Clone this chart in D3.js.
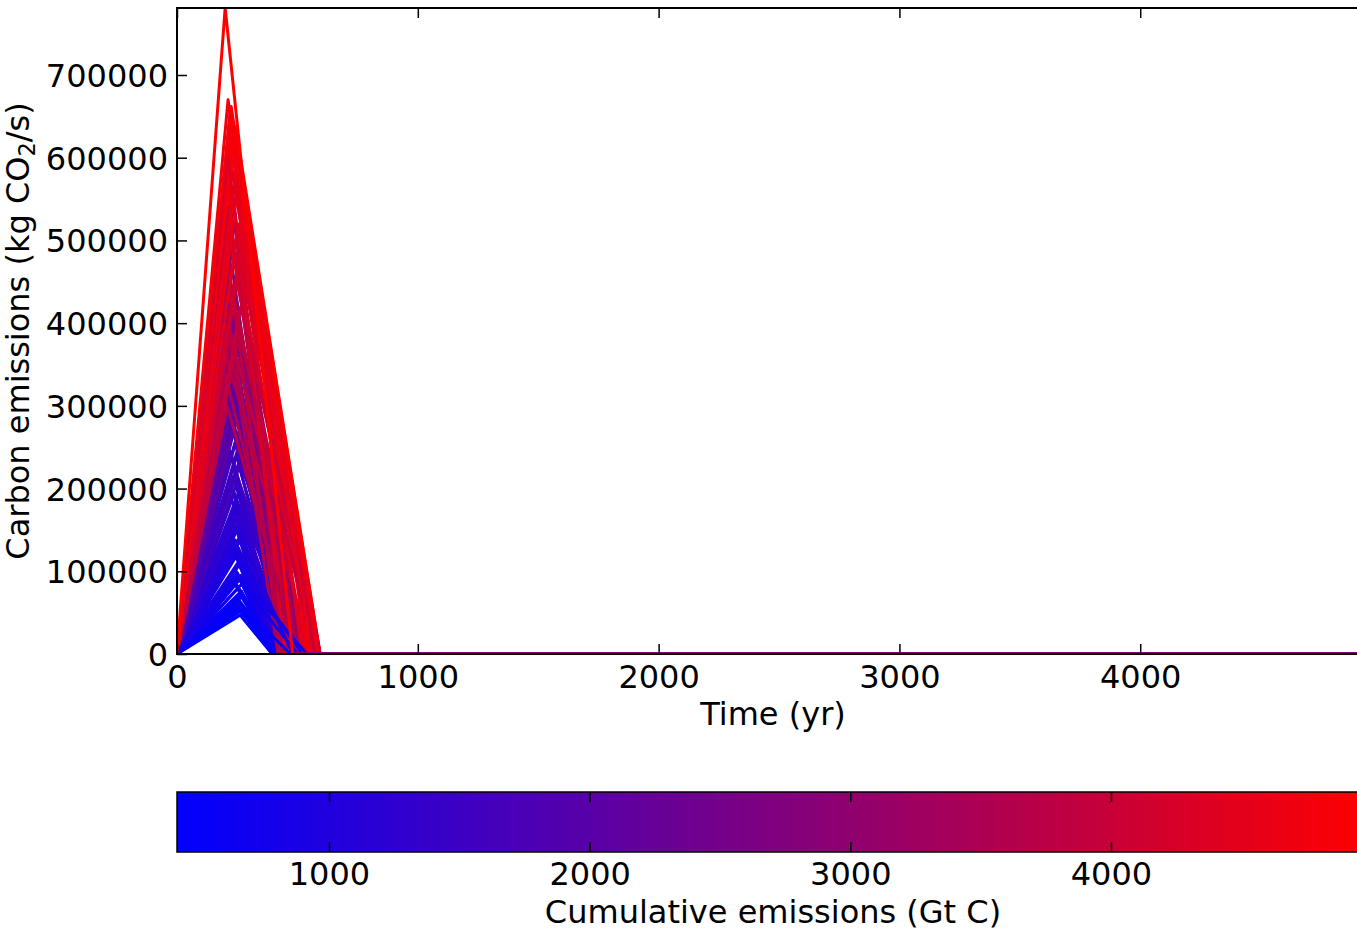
<!DOCTYPE html>
<html>
<head>
<meta charset="utf-8">
<script src="https://cdn.jsdelivr.net/npm/d3@7"></script>
<style>
  html, body { margin: 0; padding: 0; background: #fff; overflow: hidden; }
  svg { display: block; }
  text { font-family: "DejaVu Sans", sans-serif; fill: #000; }
</style>
</head>
<body>
<svg id="chart" width="1357" height="930"></svg>
<script>
// Emission pulses: linear rise from year 0 to the peak, linear fall to zero, then zero to the end of the run.
const peakYear = [
  262, 260, 258, 262, 255, 260, 250, 258, 245, 255, 240, 250, 262, 235,
  265, 255, 250, 268, 245, 265, 240, 270, 248, 232, 266, 242, 228, 258, 226, 262, 234, 255, 222, 265,
  230, 250, 218, 258, 225, 248, 215, 255, 220, 250, 218, 245, 225, 215, 210, 270, 275, 272, 238, 230,
  245, 238, 252, 232, 248, 240, 255, 228, 245, 236, 250, 230, 242, 258, 262,
  238, 226, 245, 232, 240, 222, 236, 248, 228, 240, 232, 226, 238, 230, 234, 228,
  205, 210, 215, 208, 218, 212, 222, 215, 225, 218, 230, 222, 235, 240, 245, 228, 220, 225, 212,
  210, 205, 215, 220, 200, 212, 208, 250, 255, 260, 248, 265, 258, 252, 242,
  265, 270, 260, 268, 255,
  200
];
const peakRate = [
  47000, 55000, 63000, 72000, 80000, 90000, 98000, 108000, 118000, 128000, 138000, 150000, 160000, 172000,
  52000, 58000, 68000, 76000, 85000, 95000, 103000, 113000, 123000, 133000, 145000, 155000, 165000, 178000, 188000, 200000, 215000, 230000, 245000, 260000,
  272000, 285000, 300000, 315000, 328000, 340000, 355000, 370000, 385000, 400000, 415000, 430000, 200000, 150000, 250000, 180000, 120000, 70000, 60000, 90000,
  180000, 195000, 210000, 225000, 240000, 255000, 268000, 280000, 295000, 310000, 322000, 335000, 348000, 300000, 230000,
  362000, 375000, 390000, 405000, 418000, 430000, 445000, 458000, 470000, 485000, 498000, 512000, 525000, 540000, 552000, 565000,
  360000, 400000, 440000, 470000, 500000, 530000, 555000, 575000, 590000, 605000, 615000, 625000, 630000, 637000, 634000, 645000, 655000, 662000, 670000,
  480000, 420000, 540000, 380000, 340000, 600000, 300000, 560000, 520000, 480000, 450000, 420000, 390000, 600000, 580000,
  60000, 85000, 110000, 140000, 95000,
  781000
];
const endYear = [
  395, 400, 398, 410, 405, 420, 400, 430, 410, 440, 420, 450, 400, 430,
  405, 395, 420, 400, 430, 410, 440, 415, 400, 450, 430, 410, 460, 450, 420, 470, 440, 480, 460, 450,
  500, 430, 470, 480, 440, 460, 480, 450, 460, 500, 440, 490, 520, 480, 500, 520, 450, 430, 415, 405,
  440, 470, 420, 500, 460, 520, 440, 480, 500, 450, 540, 470, 510, 560, 580,
  440, 490, 470, 520, 450, 500, 480, 530, 460, 510, 470, 500, 450, 480, 460, 440,
  560, 580, 594, 540, 590, 560, 594, 530, 570, 550, 594, 520, 580, 594, 594, 560, 540, 575, 560,
  430, 450, 470, 420, 480, 450, 500, 594, 590, 594, 580, 594, 570, 585, 560,
  470, 500, 520, 480, 540,
  480
];
const cumulativeC = [
  430, 470, 520, 570, 610, 680, 720, 790, 840, 910, 960, 1040, 1060, 1120,
  450, 480, 540, 590, 650, 700, 760, 810, 860, 930, 1000, 1020, 1100, 1160, 1180, 1280, 1340, 1430, 1480, 1560,
  1700, 1680, 1820, 1920, 1920, 2050, 2150, 2200, 2350, 2550, 2500, 2750, 1400, 1100, 1650, 1300, 900, 600, 500, 640,
  1200, 1300, 1320, 1450, 1500, 1650, 1620, 1760, 1850, 1880, 2080, 2050, 2200, 2050, 1700,
  2250, 2400, 2480, 2650, 2620, 2800, 2850, 3050, 2950, 3200, 3150, 3350, 3250, 3450, 3450, 3450,
  3700, 3900, 4100, 4000, 4300, 4250, 4500, 4350, 4550, 4500, 4750, 4500, 4750, 4900, 4900, 4750, 4700, 4850, 4800,
  3800, 3700, 4100, 3600, 3600, 4300, 3650, 4600, 4450, 4300, 4100, 4000, 3850, 4700, 4550,
  560, 720, 880, 1000, 800,
  4990
];
const runEndYear = 4950;
const rateMax = 781000;
const cumulativeRange = [417, 4990];

const timeTicks = [0, 1000, 2000, 3000, 4000];
const rateTicks = [0, 100000, 200000, 300000, 400000, 500000, 600000, 700000];
const cumulativeTicks = [1000, 2000, 3000, 4000];

const svg = d3.select("#chart");
const plot = { left: 177, top: 8, right: 1369, bottom: 654 };
const bar = { left: 177, top: 792, right: 1369, bottom: 852 };
const fontSize = 32;
const tickLen = 10;

const x = d3.scaleLinear().domain([0, runEndYear]).range([plot.left, plot.right]);
const y = d3.scaleLinear().domain([0, rateMax]).range([plot.bottom, plot.top]);
const color = d3.scaleLinear().domain(cumulativeRange).range(["#0000ff", "#ff0000"])
  .interpolate(d3.interpolateRgb).clamp(true);
const cx = d3.scaleLinear().domain(cumulativeRange).range([bar.left, bar.right]);

const defs = svg.append("defs");
defs.append("clipPath").attr("id", "plot-clip")
  .append("rect")
  .attr("x", plot.left).attr("y", plot.top)
  .attr("width", plot.right - plot.left).attr("height", plot.bottom - plot.top);

// emission curves
const series = peakYear.map((t, i) => ({
  cum: cumulativeC[i],
  pts: [[0, 0], [t, peakRate[i]], [endYear[i], 0], [runEndYear, 0]]
}));
const line = d3.line().x(d => x(d[0])).y(d => y(d[1]));
svg.append("g").attr("clip-path", "url(#plot-clip)")
  .selectAll("path").data(series).join("path")
  .attr("d", d => line(d.pts))
  .attr("fill", "none")
  .attr("stroke", d => color(d.cum))
  .attr("stroke-width", 3)
  .attr("stroke-linejoin", "round");

// axes frame with inward ticks on every side
svg.append("rect")
  .attr("x", plot.left).attr("y", plot.top)
  .attr("width", plot.right - plot.left).attr("height", plot.bottom - plot.top)
  .attr("fill", "none").attr("stroke", "#000").attr("stroke-width", 2);

const xAxisBottom = d3.axisBottom(x).tickValues(timeTicks).tickSize(-tickLen).tickFormat(d3.format("d"));
const xAxisTop = d3.axisTop(x).tickValues(timeTicks).tickSize(-tickLen).tickFormat("");
const yAxisLeft = d3.axisLeft(y).tickValues(rateTicks).tickSize(-tickLen).tickFormat(d3.format("d"));
const yAxisRight = d3.axisRight(y).tickValues(rateTicks).tickSize(-tickLen).tickFormat("");

function styleAxis(g) {
  g.select(".domain").remove();
  g.selectAll(".tick line").attr("stroke", "#000").attr("stroke-width", 1.5);
  g.selectAll(".tick text").attr("font-size", fontSize).attr("font-family", "DejaVu Sans, sans-serif").attr("fill", "#000");
}

const gxb = svg.append("g").attr("transform", `translate(0,${plot.bottom})`).call(xAxisBottom).call(styleAxis);
gxb.selectAll(".tick text").attr("y", 34).attr("dy", 0);
svg.append("g").attr("transform", `translate(0,${plot.top})`).call(xAxisTop).call(styleAxis);
const gyl = svg.append("g").attr("transform", `translate(${plot.left},0)`).call(yAxisLeft).call(styleAxis);
gyl.selectAll(".tick text").attr("x", -9).attr("dy", 11.5);
svg.append("g").attr("transform", `translate(${plot.right},0)`).call(yAxisRight).call(styleAxis);

// axis titles
svg.append("text")
  .attr("x", (plot.left + plot.right) / 2).attr("y", 725)
  .attr("text-anchor", "middle").attr("font-size", fontSize)
  .text("Time (yr)");

const ylab = svg.append("text")
  .attr("transform", `translate(29,${(plot.top + plot.bottom) / 2}) rotate(-90)`)
  .attr("text-anchor", "middle").attr("font-size", fontSize);
ylab.append("tspan").text("Carbon emissions (kg CO");
ylab.append("tspan").attr("font-size", fontSize * 0.7).attr("dy", 6).text("2");
ylab.append("tspan").attr("dy", -6).text("/s)");

// colour bar
const grad = defs.append("linearGradient").attr("id", "cbar")
  .attr("x1", "0%").attr("x2", "100%").attr("y1", "0%").attr("y2", "0%");
d3.range(0, 1.0001, 0.05).forEach(f => {
  grad.append("stop").attr("offset", `${f * 100}%`)
    .attr("stop-color", color(cumulativeRange[0] + f * (cumulativeRange[1] - cumulativeRange[0])));
});
svg.append("rect")
  .attr("x", bar.left).attr("y", bar.top)
  .attr("width", bar.right - bar.left).attr("height", bar.bottom - bar.top)
  .attr("fill", "url(#cbar)").attr("stroke", "#000").attr("stroke-width", 1.5);

const cAxisBottom = d3.axisBottom(cx).tickValues(cumulativeTicks).tickSize(-tickLen).tickFormat(d3.format("d"));
const cAxisTop = d3.axisTop(cx).tickValues(cumulativeTicks).tickSize(-tickLen).tickFormat("");
const gcb = svg.append("g").attr("transform", `translate(0,${bar.bottom})`).call(cAxisBottom).call(styleAxis);
gcb.selectAll(".tick text").attr("y", 33).attr("dy", 0);
svg.append("g").attr("transform", `translate(0,${bar.top})`).call(cAxisTop).call(styleAxis);

svg.append("text")
  .attr("x", (bar.left + bar.right) / 2).attr("y", 923)
  .attr("text-anchor", "middle").attr("font-size", fontSize)
  .text("Cumulative emissions (Gt C)");
</script>
</body>
</html>
